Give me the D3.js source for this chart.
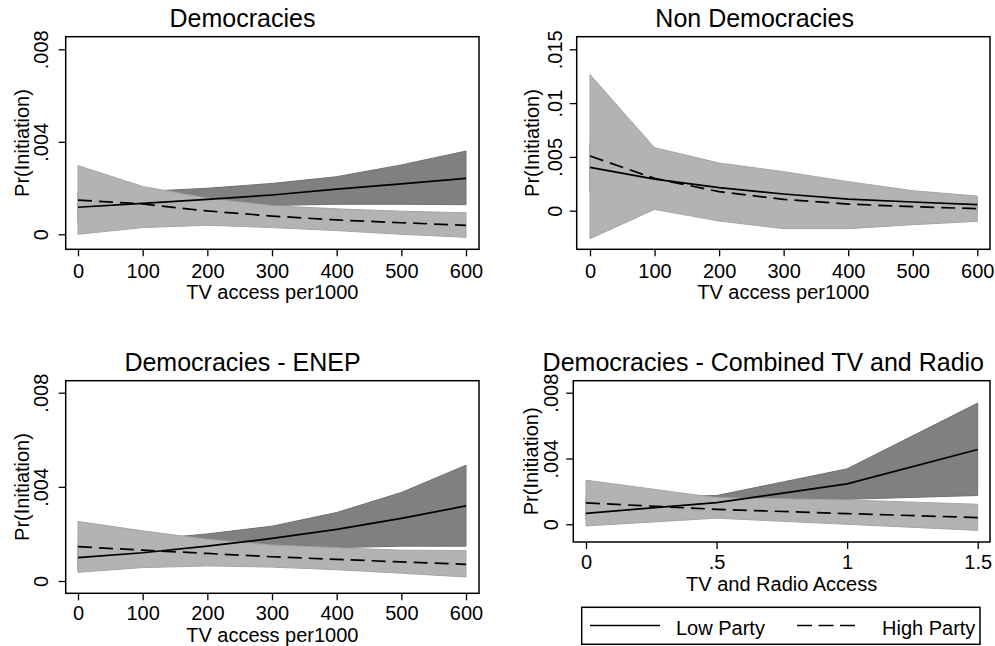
<!DOCTYPE html>
<html><head><meta charset="utf-8">
<script src="https://cdn.jsdelivr.net/npm/d3@7"></script>
<style>
body{margin:0;background:#fff;}
text{font-family:"Liberation Sans",Arial,Helvetica,sans-serif;fill:#000;}
</style></head>
<body><svg id="c" width="995" height="646"></svg>
<script>
// ---- data ----
const xTV = [0,100,200,300,400,500,600];
const xTVR = [0,0.5,1,1.5];

// Democracies
const demLow    = [0.00117,0.00134,0.00151,0.00170,0.00195,0.00218,0.00242];
const demLowLo  = [0.00050,0.00090,0.00110,0.00125,0.00130,0.00130,0.00128];
const demLowHi  = [0.00180,0.00185,0.00199,0.00220,0.00249,0.00300,0.00360];
const demHigh   = [0.00148,0.00131,0.00101,0.00079,0.00062,0.00050,0.00039];
const demHighLo = [0.00000,0.00029,0.00039,0.00029,0.00016,0.00000,-0.00013];
const demHighHi = [0.00297,0.00207,0.00156,0.00124,0.00110,0.00100,0.00093];

// Non Democracies
const nonLow    = [0.00403,0.00294,0.00214,0.00155,0.00108,0.00081,0.00056];
const nonLowLo  = [0.00170,0.00150,0.00100,0.00060,0.00030,0.00010,0.00000];
const nonLowHi  = [0.00630,0.00440,0.00330,0.00250,0.00190,0.00150,0.00110];
const nonHigh   = [0.00508,0.00300,0.00177,0.00105,0.00062,0.00037,0.00019];
const nonHighLo = [-0.00260,0.00012,-0.00096,-0.00167,-0.00167,-0.00130,-0.00099];
const nonHighHi = [0.01265,0.00586,0.00443,0.00363,0.00270,0.00186,0.00136];

// Democracies - ENEP
const enLow    = [0.00099,0.00120,0.00148,0.00181,0.00219,0.00266,0.00319];
const enLowLo  = [0.00047,0.00080,0.00110,0.00135,0.00142,0.00148,0.00148];
const enLowHi  = [0.00160,0.00175,0.00200,0.00233,0.00291,0.00376,0.00492];
const enHigh   = [0.00146,0.00131,0.00117,0.00103,0.00092,0.00081,0.00071];
const enHighLo = [0.00037,0.00057,0.00064,0.00059,0.00048,0.00033,0.00017];
const enHighHi = [0.00253,0.00213,0.00177,0.00153,0.00141,0.00131,0.00129];

// Democracies - Combined TV and Radio
const crLow    = [0.00067,0.00132,0.00246,0.00455];
const crLowLo  = [0.00030,0.00125,0.00152,0.00175];
const crLowHi  = [0.00160,0.00175,0.00337,0.00737];
const crHigh   = [0.00130,0.00091,0.00065,0.00041];
const crHighLo = [-0.00010,0.00037,0.00000,-0.00037];
const crHighHi = [0.00268,0.00162,0.00148,0.00122];

const titles = ["Democracies","Non Democracies","Democracies - ENEP","Democracies - Combined TV and Radio"];
const xTitles = ["TV access per1000","TV access per1000","TV access per1000","TV and Radio Access"];
const yTitle = "Pr(Initiation)";
const xTicksTV = [0,100,200,300,400,500,600];
const xTicksTVR = [0,0.5,1,1.5];
const xTickLabelsTVR = ["0",".5","1","1.5"];
const yTicksA = [0,0.004,0.008];
const yTickLabelsA = ["0",".004",".008"];
const yTicksB = [0,0.005,0.01,0.015];
const yTickLabelsB = ["0",".005",".01",".015"];
const legendLabels = ["Low Party","High Party"];

// ---- layout ----
const panels = [
  {x:xTV, low:demLow, lowLo:demLowLo, lowHi:demLowHi, high:demHigh, highLo:demHighLo, highHi:demHighHi,
   xd:[0,600], xr:[78,466], yd:[0,0.008], yr:[234.3,49.3], frame:[65.7,36.7,479,249.3],
   xt:xTicksTV, xtl:xTicksTV.map(String), yt:yTicksA, ytl:yTickLabelsA,
   title:titles[0], tx:242.5, ty:26.7, xtb:278, xttb:299.3, ytb:48, ytt:29, xtitle:xTitles[0]},
  {x:xTV, low:nonLow, lowLo:nonLowLo, lowHi:nonLowHi, high:nonHigh, highLo:nonHighLo, highHi:nonHighHi,
   xd:[0,600], xr:[590,977.3], yd:[0,0.015], yr:[210.7,49.3], frame:[576.7,36.7,990,249.3],
   xt:xTicksTV, xtl:xTicksTV.map(String), yt:yTicksB, ytl:yTickLabelsB,
   title:titles[1], tx:754.7, ty:26.7, xtb:278, xttb:299.3, ytb:562, ytt:539, xtitle:xTitles[1]},
  {x:xTV, low:enLow, lowLo:enLowLo, lowHi:enLowHi, high:enHigh, highLo:enHighLo, highHi:enHighHi,
   xd:[0,600], xr:[78,466], yd:[0,0.008], yr:[581,392.7], frame:[65.7,380.7,479,593.3],
   xt:xTicksTV, xtl:xTicksTV.map(String), yt:yTicksA, ytl:yTickLabelsA,
   title:titles[2], tx:242.5, ty:370.7, xtb:620, xttb:641.7, ytb:48, ytt:29, xtitle:xTitles[2]},
  {x:xTVR, low:crLow, lowLo:crLowLo, lowHi:crLowHi, high:crHigh, highLo:crHighLo, highHi:crHighHi,
   xd:[0,1.5], xr:[586,977.7], yd:[0,0.008], yr:[524.3,392.7], frame:[573.3,380.7,990,542],
   xt:xTicksTVR, xtl:xTickLabelsTVR, yt:yTicksA, ytl:yTickLabelsA,
   title:titles[3], tx:763.3, ty:370.7, xtb:569.3, xttb:590.7, ytb:558, ytt:537.5, xtitle:xTitles[3]}
];

const svg = d3.select("#c");
const DARK="#808080", DARKE="#707070", LIGHT="#b3b3b3", LIGHTE="#a5a5a5";

panels.forEach(p=>{
  const g = svg.append("g");
  const xs = d3.scaleLinear().domain(p.xd).range(p.xr);
  const ys = d3.scaleLinear().domain(p.yd).range(p.yr);
  const [fx0,fy0,fx1,fy1] = p.frame;
  const idx = d3.range(p.x.length);
  const area = (lo,hi)=>d3.area().x(i=>xs(p.x[i])).y0(i=>ys(lo[i])).y1(i=>ys(hi[i]))(idx);
  const line = (v)=>d3.line().x(i=>xs(p.x[i])).y(i=>ys(v[i]))(idx);

  g.append("path").attr("d",area(p.lowLo,p.lowHi)).attr("fill",DARK).attr("stroke",DARKE).attr("stroke-width",1);
  g.append("path").attr("d",area(p.highLo,p.highHi)).attr("fill",LIGHT).attr("stroke",LIGHTE).attr("stroke-width",1);
  g.append("path").attr("d",line(p.low)).attr("fill","none").attr("stroke","#000").attr("stroke-width",1.7);
  g.append("path").attr("d",line(p.high)).attr("fill","none").attr("stroke","#000").attr("stroke-width",1.7)
    .attr("stroke-dasharray","14,7");

  // frame
  g.append("rect").attr("x",fx0).attr("y",fy0).attr("width",fx1-fx0).attr("height",fy1-fy0)
    .attr("fill","none").attr("stroke","#000").attr("stroke-width",1.5);

  // x axis
  const xa = g.append("g").attr("transform",`translate(0,${fy1})`)
    .call(d3.axisBottom(xs).tickValues(p.xt).tickSize(7).tickFormat((d,i)=>p.xtl[i]));
  xa.select(".domain").remove();
  xa.selectAll("line").attr("stroke","#000").attr("stroke-width",1.3);
  xa.selectAll("text").attr("font-size",20).attr("dy",null).attr("y",p.xtb-fy1)
    .style("font-family","'Liberation Sans',Arial,sans-serif");

  // y axis
  const ya = g.append("g").attr("transform",`translate(${fx0},0)`)
    .call(d3.axisLeft(ys).tickValues(p.yt).tickSize(7).tickFormat((d,i)=>p.ytl[i]));
  ya.select(".domain").remove();
  ya.selectAll("line").attr("stroke","#000").attr("stroke-width",1.3);
  ya.selectAll(".tick text").attr("font-size",20).attr("dy",null).attr("x",null)
    .attr("text-anchor","middle")
    .attr("transform",`translate(${p.ytb-fx0},0) rotate(-90)`)
    .style("font-family","'Liberation Sans',Arial,sans-serif");

  // titles
  g.append("text").attr("x",p.tx).attr("y",p.ty).attr("text-anchor","middle").attr("font-size",25).text(p.title);
  g.append("text").attr("x",(fx0+fx1)/2).attr("y",p.xttb).attr("text-anchor","middle").attr("font-size",20).text(p.xtitle);
  g.append("text").attr("transform",`translate(${p.ytt},${(fy0+fy1)/2}) rotate(-90)`)
    .attr("text-anchor","middle").attr("font-size",20).text(yTitle);
});

// legend
const lg = svg.append("g");
lg.append("rect").attr("x",581.7).attr("y",607.3).attr("width",398.3).attr("height",37)
  .attr("fill","#fff").attr("stroke","#000").attr("stroke-width",1.5);
lg.append("line").attr("x1",590).attr("x2",660).attr("y1",625.5).attr("y2",625.5)
  .attr("stroke","#000").attr("stroke-width",1.7);
lg.append("line").attr("x1",797).attr("x2",861).attr("y1",625.5).attr("y2",625.5)
  .attr("stroke","#000").attr("stroke-width",1.7).attr("stroke-dasharray","15,6.5");
lg.append("text").attr("x",676).attr("y",635).attr("font-size",20).text(legendLabels[0]);
lg.append("text").attr("x",882).attr("y",635).attr("font-size",20).text(legendLabels[1]);
</script></body></html>
